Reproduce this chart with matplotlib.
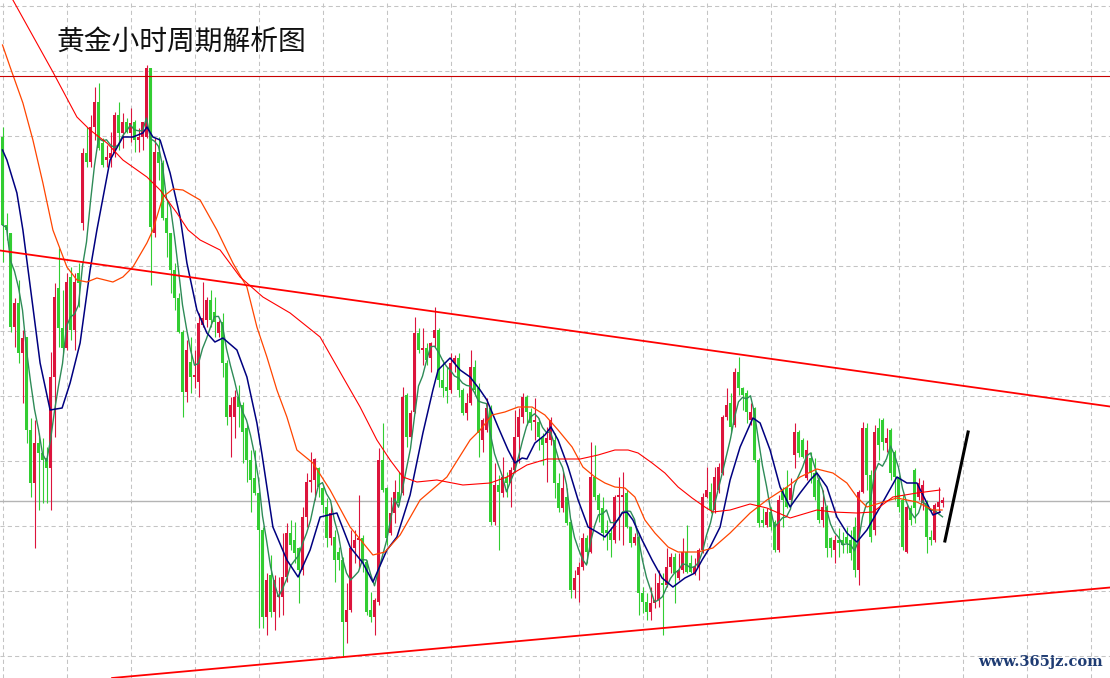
import numpy as np
import pandas as pd
import matplotlib
matplotlib.use('Agg')
import matplotlib.pyplot as plt

plt.rcParams['font.family'] = ['Noto Sans CJK SC', 'DejaVu Sans']

title = '黄金小时周期解析图'
watermark = 'www.365jz.com'

# hourly candles (price units are arbitrary, no axis labels shown)
open_ = [563,475,467,373,397,347,363,270,217,257,
         247,242,232,323,412,372,352,423,370,427,
         477,547,538,573,598,557,540,542,547,585,
         567,578,567,578,560,563,563,632,467,548,
         537,482,467,430,402,368,308,338,323,318,
         375,380,400,388,367,378,337,283,283,303,
         295,272,240,222,207,170,83,125,88,103,
         103,123,167,160,152,130,183,218,220,232,
         212,193,162,163,148,140,78,90,152,160,
         162,138,90,83,98,240,212,167,187,208,
         207,305,263,288,367,350,352,342,362,370,
         320,313,310,337,342,310,287,297,333,312,
         260,270,292,178,215,207,223,217,230,263,
         283,303,288,278,278,262,257,260,260,217,
         192,203,178,110,125,133,162,148,223,205,
         192,170,167,160,203,203,207,173,157,163,
         107,98,88,97,100,117,115,133,143,122,
         130,148,137,127,133,150,203,208,190,210,
         227,283,297,275,328,312,307,280,292,240,
         180,175,188,178,150,210,212,200,245,268,
         260,222,242,227,220,180,193,162,150,160,
         160,163,160,173,130,208,272,225,170,272,
         280,257,270,248,223,200,148,192,230,203,
         197,197,163,160,193,197]
high = [573,487,467,402,420,370,363,282,280,267,
        262,253,348,417,452,410,427,433,427,437,
        552,573,585,613,617,562,555,568,588,598,
        587,582,592,580,572,578,635,632,562,563,
        540,500,467,437,407,370,360,363,350,387,
        418,403,410,403,380,387,340,303,310,315,
        298,277,250,250,208,173,127,145,125,123,
        167,177,180,178,153,193,227,248,242,233,
        213,202,195,170,153,143,117,170,170,205,
        165,140,108,102,252,277,213,203,220,228,
        313,307,290,383,372,372,357,358,393,372,
        340,333,347,345,347,312,307,350,340,317,
        282,302,295,237,225,243,228,233,290,292,
        307,305,292,302,282,267,273,283,267,227,
        228,212,180,130,138,167,165,258,255,207,
        203,180,173,205,223,228,210,173,167,167,
        113,107,113,127,130,127,152,147,147,147,
        162,175,145,142,152,207,233,217,233,237,
        285,312,307,332,343,313,310,297,293,242,
        192,192,193,180,205,213,230,222,277,270,
        262,260,248,242,223,210,195,163,165,172,
        168,173,170,183,210,278,277,230,275,282,
        282,272,272,250,225,205,195,195,232,222,
        220,200,170,197,213,203]
low = [438,460,368,353,337,297,257,203,152,190,
       197,197,190,263,353,347,350,360,350,393,
       470,533,533,560,550,533,533,533,543,550,
       552,567,558,548,548,550,562,415,463,520,
       480,443,407,390,367,283,298,307,312,303,
       373,373,373,363,363,323,275,243,262,273,
       237,218,188,205,72,72,65,83,70,83,
       85,118,150,137,97,125,173,208,200,203,
       187,153,155,118,130,43,57,88,137,132,
       128,85,78,65,95,208,155,165,177,195,
       205,253,262,287,347,335,335,328,353,313,
       303,297,307,328,303,285,280,295,305,243,
       248,268,175,175,150,203,203,193,228,237,
       277,275,270,260,250,235,218,255,202,188,
       188,175,102,102,98,130,137,147,200,178,
       160,150,143,157,160,155,172,153,155,85,
       87,80,80,92,93,65,113,127,97,120,
       127,127,127,125,120,147,202,187,187,207,
       225,280,267,273,305,290,277,275,238,173,
       173,173,170,148,148,173,192,195,232,243,
       242,220,217,200,177,173,143,143,137,143,
       147,147,140,123,115,207,210,158,165,240,
       250,248,220,200,188,150,147,175,177,200,
       190,147,155,158,187,193]
close = [475,470,373,397,347,362,270,217,257,247,
         240,232,323,403,372,352,418,370,418,417,
         547,538,573,598,552,535,543,547,585,567,
         578,568,577,560,563,578,632,473,548,537,
         482,467,430,402,368,308,350,323,325,377,
         382,400,380,378,378,337,283,295,303,293,
         268,240,220,207,170,83,120,88,120,105,
         123,167,155,147,130,183,218,220,241,213,
         195,162,187,140,140,78,90,152,160,162,
         138,88,83,100,240,210,162,187,208,197,
         303,263,287,367,350,352,340,357,370,320,
         312,309,337,342,310,287,297,333,310,267,
         280,292,178,215,208,223,217,230,263,283,
         303,288,277,280,263,255,262,280,217,192,
         212,177,110,122,133,162,148,223,203,190,
         167,167,160,203,205,205,173,157,163,107,
         98,88,97,100,117,115,133,143,127,130,
         148,128,128,133,150,203,210,190,223,233,
         283,295,273,328,312,305,288,288,240,177,
         177,188,173,150,200,200,193,212,268,247,
         243,250,227,203,180,193,152,152,160,157,
         155,157,147,130,208,272,225,163,268,255,
         258,262,227,223,193,153,193,180,192,217,
         215,163,160,195,198,200]

# moving averages: (bar index, value)
ma10_x = [0,1.1,3.6,5.1,7.6,9.4,11.9,14.9,16.9,19.4,21.9,23.6,26.9,30.1,32.6,35.1,36.1,37.6,39.4,
          41.9,44.4,46.1,48.6,51.1,53.1,55.1,58.6,61.1,63.6,64.9,67.6,71.1,73.9,76.9,79.4,83.6,
          86.9,90.1,92.6,96.1,98.6,101.9,105.1,107.6,108.9,111.9,114.4,116.9,119.4,121.1,123.9,
          126.4,128.1,129.9,131.1,133.1,135.6,137.1,138.9,141.4,143.9,146.4,148.6,150.6,152.6,
          154.9,156.1,157.6,159.9,162.4,164.9,167.6,170.6,173.1,174.9,176.9,179.4,181.9,184.4,
          187.6,189.4,191.9,194.4,196.9,199.4,201.9,203.6,206.1,208.6,211.1,213.6,216.1,219.4,
          223.6,226.1,228.6,231.1,232.6,234.4]
ma10_y = [550,540,507,470,393,337,290,292,317,357,430,470,540,563,563,567,573,563,560,
          527,483,437,390,367,358,362,350,323,277,245,173,140,123,150,183,187,
          153,137,118,150,163,205,267,310,330,342,330,323,310,300,273,
          250,237,242,241,257,265,273,260,233,200,173,168,163,173,
          187,188,180,160,140,122,113,122,127,140,153,173,220,253,
          282,277,250,213,193,207,220,227,213,183,167,158,170,193,
          223,217,217,197,185,188]

ma30_x = [0,1.9,5.1,7.6,10.1,12.6,16.1,18.6,21.1,23.6,27.6,30.1,32.6,36.1,37.6,40.1,42.6,45.1,
          49.4,53.6,57.6,61.1,63.6,66.1,68.6,71.1,73.6,77.6,81.9,86.9,92.6,95.6,99.4,104.4,
          111.1,116.9,119.4,122.4,125.6,128.9,132.4,135.6,138.9,142.4,145.1,148.1,150.6,153.1,
          155.6,158.1,160.6,163.1,166.4,168.9,173.9,177.6,181.9,186.9,191.1,196.1,199.4,203.6,
          207.6,211.1,213.6,216.1,219.4,223.6,228.6,232.6,234.9]
ma30_y = [655,633,597,560,517,470,433,420,418,422,418,423,433,457,470,503,511,510,
          500,470,437,413,373,343,310,283,250,237,210,173,145,148,165,200,
          223,260,270,285,288,293,293,285,270,253,233,223,217,213,
          212,203,180,167,153,148,148,152,167,187,200,213,223,231,
          227,217,203,193,197,202,198,190,190]

ma60_x = [0,2.6,12.6,18.6,21.9,26.1,30.1,36.1,39.4,43.6,46.4,49.4,54.4,59.4,65.1,71.9,79.4,
          85.1,89.4,93.6,96.9,100.1,103.6,108.6,115.1,121.9,126.1,131.1,136.1,141.1,144.4,
          148.9,153.1,156.4,158.9,162.4,165.6,168.9,172.4,175.6,177.6,181.9,186.9,191.1,
          196.9,203.6,207.6,213.6,217.6,222.6,228.6,234.4]
ma60_y = [719,700,628,583,570,557,540,523,510,487,470,460,450,423,403,387,363,
          323,293,260,240,223,218,220,215,217,223,235,241,241,241,
          245,250,250,247,237,227,213,202,193,188,190,196,192,
          182,190,188,187,188,203,207,210]

# drawn lines: two channel lines, a flat resistance, the last price and a hand-drawn stroke
upper_x, upper_y = [-0.625, 276.875], [449.5, 293.5]
lower_x, lower_y = [27.4, 276.875], [22, 112.5]
resist_level = 624.5
last_level = 199
stroke_x, stroke_y = [235.6, 241.4], [159, 268]

o = np.array(open_, float)
h = np.array(high, float)
l = np.array(low, float)
c = np.array(close, float)
idx = np.arange(len(c))
up = c >= o
ma5 = pd.Series(c).rolling(5, min_periods=1).mean()

fig = plt.figure(figsize=(11.1, 6.78), dpi=100)
ax = fig.add_axes([0, 0, 1, 1])
ax.set_xlim(-0.625, 276.875)
ax.set_ylim(22, 700)
for s in ax.spines.values():
    s.set_visible(False)
ax.set_xticks(np.arange(0, 277, 16))
ax.set_yticks(np.arange(44.5, 700, 65))
ax.tick_params(length=0, labelbottom=False, labelleft=False)
ax.grid(True, color='#c4c4c4', lw=0.75, ls=(0, (4, 3)))
ax.set_axisbelow(True)

ax.axhline(last_level, color='#b4b4b4', lw=1.0, zorder=1)
ax.axhline(resist_level, color='#c80000', lw=0.8, zorder=6)

red, green = '#dc143c', '#32cd32'
cols = np.where(up, red, green)
ax.vlines(idx, l, h, colors=cols, lw=0.8, zorder=2)
body = np.maximum(np.abs(c - o), 1.0)
ax.bar(idx, body, bottom=np.minimum(o, c), width=0.78, color=cols, linewidth=0, zorder=3)

ax.plot(idx, ma5, color='#2e8b57', lw=1.0, zorder=4)
ax.plot(ma10_x, ma10_y, color='#000080', lw=1.1, zorder=4)
ax.plot(ma30_x, ma30_y, color='#ff4500', lw=0.9, zorder=4)
ax.plot(ma60_x, ma60_y, color='#ff0000', lw=0.8, zorder=4)

ax.plot(upper_x, upper_y, color='#ff0000', lw=1.3, zorder=5)
ax.plot(lower_x, lower_y, color='#ff0000', lw=1.3, zorder=5)
ax.plot(stroke_x, stroke_y, color='black', lw=2.2, zorder=5)

fig.text(57 / 1110, 1 - 42 / 678, title, fontsize=20, va='center', ha='left', color='#111111')
fig.text(1103 / 1110, 1 - 662 / 678, watermark, fontsize=10.5, va='center', ha='right',
         color='#1f3c73', family='DejaVu Serif', weight='bold')

fig.savefig('out.png', dpi=100)
